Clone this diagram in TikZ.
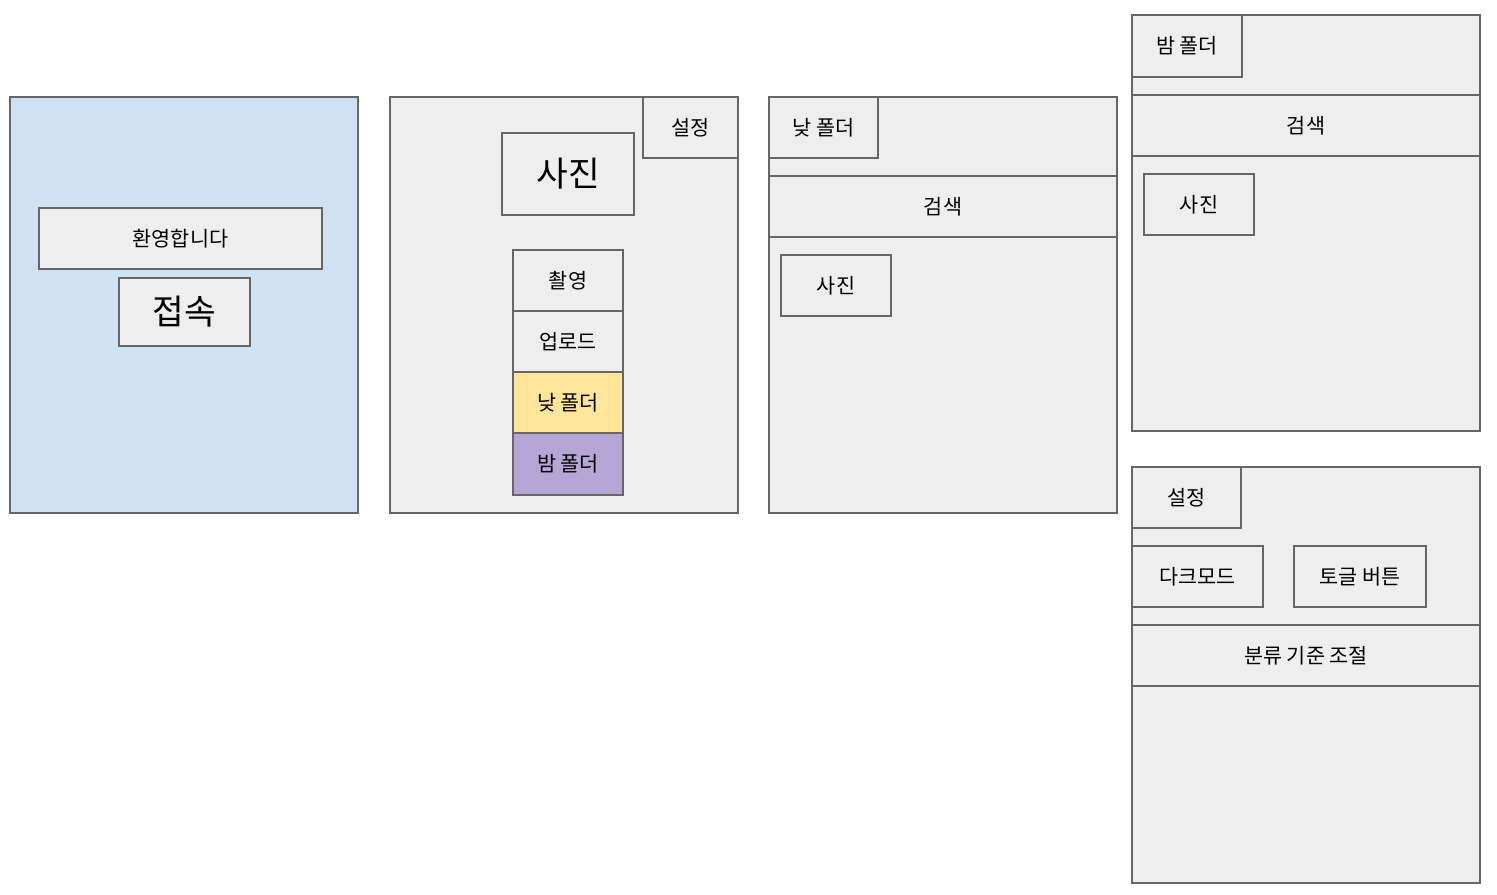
\documentclass[tikz,border=0pt]{standalone}
\usepackage{fontspec}
\newfontfamily\kr{Noto Sans CJK KR}
\definecolor{linegray}{HTML}{666666}
\definecolor{boxgray}{HTML}{EEEEEE}
\definecolor{skyblue}{HTML}{CFE2F3}
\definecolor{dayyellow}{HTML}{FFE599}
\definecolor{nightpurple}{HTML}{B4A7D6}
\tikzset{
  box/.style={draw=linegray,fill=boxgray,line width=0.8pt,inner sep=0pt,
    font=\kr\fontsize{11.8}{13}\selectfont},
  screen/.style={box,minimum width=6.96cm,minimum height=8.32cm},
  bar/.style={box,minimum width=6.96cm,minimum height=1.22cm},
  btn/.style={box,minimum width=2.2cm,minimum height=1.22cm},
  big/.style={font=\kr\fontsize{19.6}{22}\selectfont}
}
\begin{document}
\begin{tikzpicture}[x=0.02cm,y=-0.02cm]
  \useasboundingbox (0,0) rectangle (1497,895);
  % start screen
  \node[screen,fill=skyblue] (S1) at (184,305) {};
  \node[box,minimum width=5.66cm,minimum height=1.22cm] (welcome) at (180.5,238.5) {환영합니다};
  \node[box,big,minimum width=2.62cm,minimum height=1.36cm] (connect) at (184.5,312) {접속};
  % main screen
  \node[screen] (S2) at (564,305) {};
  \node[box,minimum width=1.9cm,minimum height=1.22cm] (set2) at (690.5,127.5) {설정};
  \node[box,big,minimum width=2.64cm,minimum height=1.64cm] (photo2) at (568,174) {사진};
  \node[btn] (shoot) at (568,280.5) {촬영};
  \node[btn] (upload) at (568,341.5) {업로드};
  \node[btn,fill=dayyellow] (day2) at (568,402.5) {낮 폴더};
  \node[btn,fill=nightpurple,minimum height=1.24cm] (night2) at (568,464) {밤 폴더};
  % day folder
  \node[screen] (S3) at (943,305) {};
  \node[btn,minimum width=2.18cm] (day3) at (823.5,127.5) {낮 폴더};
  \node[bar] (search3) at (943,206.5) {검색};
  \node[btn] (photo3) at (836,285.5) {사진};
  % night folder
  \node[screen] (S4) at (1306,223) {};
  \node[btn,minimum height=1.24cm] (night4) at (1187,46) {밤 폴더};
  \node[bar] (search4) at (1306,125.5) {검색};
  \node[btn] (photo4) at (1199,204.5) {사진};
  % settings
  \node[screen] (S5) at (1306,675) {};
  \node[btn,minimum width=2.18cm] (set5) at (1186.5,497.5) {설정};
  \node[btn,minimum width=2.62cm] (dark) at (1197.5,576.5) {다크모드};
  \node[btn,minimum width=2.64cm] (toggle) at (1360,576.5) {토글 버튼};
  \node[bar] (sort) at (1306,655.5) {분류 기준 조절};
\end{tikzpicture}
\end{document}
